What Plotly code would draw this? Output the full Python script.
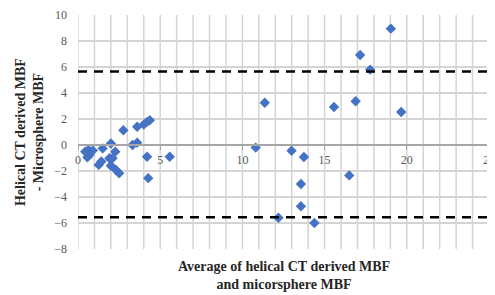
import plotly.graph_objects as go

# Bland-Altman data: average (x) and difference (y)
avg_mbf = [0.44, 0.64, 0.9, 0.7, 0.57, 1.5, 2.0, 2.27, 1.42, 1.26, 1.91, 2.1, 2.0, 2.3, 2.5,
           2.76, 3.6, 4.0, 4.2, 4.37, 3.32, 3.6, 4.2, 5.58, 4.27,
           10.81, 12.99, 13.74, 13.56, 16.5, 13.56, 12.19, 14.38,
           11.36, 15.57, 16.89, 19.66, 17.77, 17.16, 19.03]
diff_mbf = [-0.51, -0.38, -0.43, -0.76, -0.95, -0.26, 0.12, -0.51, -1.27, -1.53, -1.02, -1.02, -1.6, -1.9, -2.17,
            1.14, 1.4, 1.57, 1.78, 1.9, 0.0, 0.18, -0.9, -0.9, -2.55,
            -0.2, -0.44, -0.92, -3.0, -2.34, -4.71, -5.6, -6.0,
            3.25, 2.92, 3.36, 2.54, 5.8, 6.92, 8.95]
upper_loa = 5.65
lower_loa = -5.55
x_range = [0, 25]
y_range = [-8, 10]
x_ticks = [0, 5, 10, 15, 20, 25]
y_ticks = [-8, -6, -4, -2, 0, 2, 4, 6, 8, 10]

serif = "Liberation Serif, serif"
grid_col = "#d4d4d4"

fig = go.Figure()
fig.add_trace(go.Scatter(
    x=avg_mbf, y=diff_mbf, mode="markers",
    marker=dict(symbol="diamond", size=8, color="#4472C4"),
    showlegend=False, hoverinfo="skip"))

# minor vertical gridlines every 1 unit
for v in range(x_range[0], x_range[1] + 1):
    fig.add_shape(type="line", xref="x", yref="y", x0=v, x1=v, y0=y_range[0], y1=y_range[1],
                  line=dict(color=grid_col, width=1.5), layer="below")

for lvl in (upper_loa, lower_loa):
    fig.add_shape(type="line", xref="x", yref="y", x0=x_range[0], x1=x_range[1], y0=lvl, y1=lvl,
                  line=dict(color="black", width=2.5, dash="9px,7px"))

fig.update_layout(
    width=487, height=288,
    margin=dict(l=70, r=6, t=7, b=47, autoexpand=False),
    paper_bgcolor="white", plot_bgcolor="white",
    font=dict(family=serif, color="#595959", size=12),
    xaxis=dict(range=x_range, tickvals=x_ticks, showgrid=False, zeroline=False, automargin=False,
               anchor="free", position=(0 - y_range[0]) / (y_range[1] - y_range[0]),
               showline=True, linecolor="#a6a6a6", linewidth=1.5,
               ticks="outside", ticklen=4, tickcolor="#a6a6a6", ticklabeloverflow="allow",
               tickfont=dict(family=serif, size=12, color="#595959")),
    yaxis=dict(range=y_range, tickvals=y_ticks, showgrid=True, gridcolor=grid_col, gridwidth=1.5,
               zeroline=False, showline=False, ticks="", ticklabelstandoff=10, automargin=False,
               ticklabeloverflow="allow",
               tickfont=dict(family=serif, size=12, color="#595959")),
    annotations=[
        dict(text="<b>Average of helical CT derived MBF<br>and micorsphere MBF</b>",
             xref="paper", yref="paper", x=0.5, y=-0.035, xanchor="center", yanchor="top",
             showarrow=False, font=dict(family=serif, size=14, color="#262626")),
        dict(text="<b>Helical CT derived MBF<br>- Microsphere MBF</b>",
             xref="paper", yref="paper", x=-0.119, y=0.5, xanchor="center", yanchor="middle",
             textangle=-90, showarrow=False, font=dict(family=serif, size=14, color="#262626")),
    ],
)

fig.write_html("out.html")
